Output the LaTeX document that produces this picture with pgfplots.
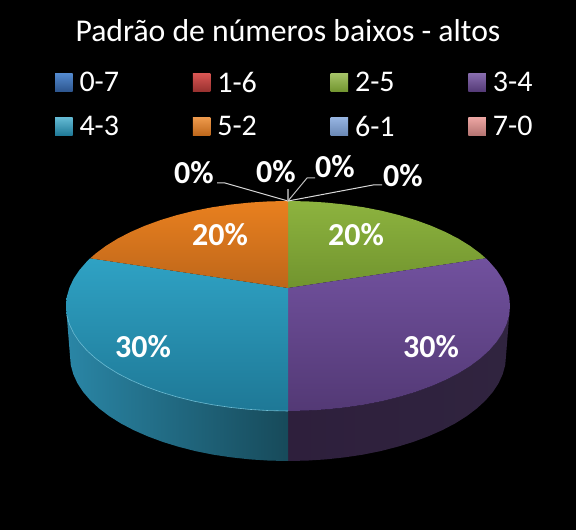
\documentclass[border=0pt]{standalone}
\usepackage{fontspec}
\setmainfont{Carlito}
\usepackage{pgfplots}
\pgfplotsset{compat=1.18}

\definecolor{greenT}{HTML}{8DB33F}
\definecolor{greenB}{HTML}{71942E}
\definecolor{purpT}{HTML}{71519E}
\definecolor{purpB}{HTML}{533975}
\definecolor{tealT}{HTML}{2FA2C4}
\definecolor{tealB}{HTML}{1E7896}
\definecolor{orT}{HTML}{E9801F}
\definecolor{orB}{HTML}{BD661A}
\definecolor{sidePl}{HTML}{2E1F3C}
\definecolor{sidePm}{HTML}{241A2E}
\definecolor{sidePr}{HTML}{30243F}
\definecolor{sideTl}{HTML}{2A86A6}
\definecolor{sideTm}{HTML}{1C5C70}
\definecolor{sideTr}{HTML}{174A5A}

\newcommand{\ent}[1]{\hspace{5pt}\makebox[111.3pt][l]{#1}}
\newcommand{\entlast}[1]{\hspace{5pt}\makebox[50pt][l]{#1}}

\begin{document}
\begin{tikzpicture}
\begin{axis}[
    width=576pt, height=530pt, scale only axis,
    xmin=0, xmax=576, ymin=0, ymax=530,
    axis line style={draw=none}, ticks=none,
    axis background/.style={fill=black},
    legend columns=4,
    legend cell align=left,
    legend style={
        at={(axis cs:55,460)}, anchor=north west,
        draw=none, fill=none, text=white, inner sep=0pt, outer sep=0pt,
        font=\fontsize{30}{30}\selectfont,
        /tikz/every even column/.append style={column sep=0pt},
        row sep=18pt,
    },
    legend image code/.code={
        \path[#1] (0pt,-9pt) rectangle (17.5pt,9pt);
    },
]

% sides of the pie
\addplot[forget plot, draw=none, left color=sidePl, middle color=sidePm, right color=sidePr] coordinates {
    (510,224)(509.2,214.8)(506.6,205.8)(502.4,196.8)(496.6,188.1)(489.2,179.6)(480.3,171.5)(469.9,163.8)(458.1,156.5)(445,149.8)(430.7,143.6)(415.3,138)(399,133.1)(381.8,128.8)(363.9,125.3)(345.5,122.6)(326.5,120.6)(307.4,119.4)(288,119)
    (288,69)(307,69.4)(325.8,70.6)(344.4,72.6)(362.6,75.3)(380.1,78.8)(397,83.1)(413,88)(428.1,93.6)(442.2,99.8)(455,106.5)(466.6,113.8)(476.8,121.5)(485.6,129.6)(492.9,138.1)(498.6,146.8)(502.7,155.8)(505.2,164.8)(506,174)
};
\addplot[forget plot, draw=none, left color=sideTl, middle color=sideTm, right color=sideTr] coordinates {
    (66,224)(66.8,214.8)(69.4,205.8)(73.6,196.8)(79.4,188.1)(86.8,179.6)(95.7,171.5)(106.1,163.8)(117.9,156.5)(131,149.8)(145.3,143.6)(160.7,138)(177,133.1)(194.2,128.8)(212.1,125.3)(230.5,122.6)(249.5,120.6)(268.6,119.4)(288,119)
    (288,69)(269,69.4)(250.2,70.6)(231.6,72.6)(213.4,75.3)(195.9,78.8)(179,83.1)(163,88)(147.9,93.6)(133.8,99.8)(121,106.5)(109.4,113.8)(99.2,121.5)(90.4,129.6)(83.1,138.1)(77.4,146.8)(73.3,155.8)(70.8,164.8)(70,174)
};

% the eight categories, 0% ones have no area
\addplot[draw=none, top color={rgb,255:red,82;green,136;blue,205}, bottom color={rgb,255:red,44;green,84;blue,140}] coordinates {(288,242)};
\addlegendentry{\ent{0-7}}
\addplot[draw=none, top color={rgb,255:red,215;green,85;blue,82}, bottom color={rgb,255:red,150;green,48;blue,46}] coordinates {(288,242)};
\addlegendentry{\ent{1-6}}

\addplot[draw=none, top color=greenT, bottom color=greenB, legend image post style={top color=greenT!80!white, bottom color=greenB}] coordinates {
    (288,242)(288,329)(307.4,328.6)(326.5,327.4)(345.5,325.4)(363.9,322.7)(381.8,319.2)(399,314.9)(415.3,310)(430.7,304.4)(445,298.2)(458.1,291.5)(469.9,284.2)(480.3,276.5)(485.8,271.7)
};
\addlegendentry{\ent{2-5}}

\addplot[draw=none, top color=purpT, bottom color=purpB, legend image post style={top color=purpT!85!white, bottom color=purpB}] coordinates {
    (288,242)(485.8,271.7)(489.2,268.4)(496.6,259.9)(502.4,251.2)(506.6,242.2)(509.2,233.2)(510,224)(509.2,214.8)(506.6,205.8)(502.4,196.8)(496.6,188.1)(489.2,179.6)(480.3,171.5)(469.9,163.8)(458.1,156.5)(445,149.8)(430.7,143.6)(415.3,138)(399,133.1)(381.8,128.8)(363.9,125.3)(345.5,122.6)(326.5,120.6)(307.4,119.4)(288,119)
};
\addlegendentry{\entlast{3-4}}

\addplot[draw=none, top color=tealT, bottom color=tealB, legend image post style={top color=tealT!75!white, bottom color=tealB}] coordinates {
    (288,242)(90.2,271.7)(86.8,268.4)(79.4,259.9)(73.6,251.2)(69.4,242.2)(66.8,233.2)(66,224)(66.8,214.8)(69.4,205.8)(73.6,196.8)(79.4,188.1)(86.8,179.6)(95.7,171.5)(106.1,163.8)(117.9,156.5)(131,149.8)(145.3,143.6)(160.7,138)(177,133.1)(194.2,128.8)(212.1,125.3)(230.5,122.6)(249.5,120.6)(268.6,119.4)(288,119)
};
\addlegendentry{\ent{4-3}}

\addplot[draw=none, top color=orT, bottom color=orB, legend image post style={top color=orT!80!white, bottom color=orB}] coordinates {
    (288,242)(288,329)(268.6,328.6)(249.5,327.4)(230.5,325.4)(212.1,322.7)(194.2,319.2)(177,314.9)(160.7,310)(145.3,304.4)(131,298.2)(117.9,291.5)(106.1,284.2)(95.7,276.5)(90.2,271.7)
};
\addlegendentry{\ent{5-2}}

\addplot[draw=none, top color={rgb,255:red,150;green,180;blue,225}, bottom color={rgb,255:red,105;green,135;blue,180}] coordinates {(288,242)};
\addlegendentry{\ent{6-1}}
\addplot[draw=none, top color={rgb,255:red,235;green,165;blue,162}, bottom color={rgb,255:red,180;green,115;blue,113}] coordinates {(288,242)};
\addlegendentry{\entlast{7-0}}

% light rim on the front edge of the blue slice
\addplot[forget plot, line width=0.6pt, color=tealT!70!white] coordinates {
    (66.8,214.8)(69.4,205.8)(73.6,196.8)(79.4,188.1)(86.8,179.6)(95.7,171.5)(106.1,163.8)(117.9,156.5)(131,149.8)(145.3,143.6)(160.7,138)(177,133.1)(194.2,128.8)(212.1,125.3)(230.5,122.6)(249.5,120.6)(268.6,119.4)(288,119)
};

% leader lines
\addplot[forget plot, line width=1pt, color=white!85!black] coordinates {(217,347)(225,347)(288,329)};
\addplot[forget plot, line width=1.8pt, color=white!55!black] coordinates {(288,341)(288,329)};
\addplot[forget plot, line width=1pt, color=white!75!black] coordinates {(288,329)(307,352)(315,352)};
\addplot[forget plot, line width=1pt, color=white!85!black] coordinates {(288,329)(373,345)(382,345)};

% title and data labels
\node[text=white, font=\fontsize{31.7}{31.7}\selectfont] at (axis cs:288,499) {Padrão de números baixos - altos};
\begin{scope}[every node/.style={text=white, font=\fontsize{32}{32}\selectfont\bfseries}]
\node at (axis cs:194,357) {0\%};
\node at (axis cs:276,358) {0\%};
\node at (axis cs:335,363) {0\%};
\node at (axis cs:403,354) {0\%};
\node at (axis cs:220,295) {20\%};
\node at (axis cs:356,295) {20\%};
\node at (axis cs:143,183) {30\%};
\node at (axis cs:431,183) {30\%};
\end{scope}

\end{axis}
\end{tikzpicture}
\end{document}
